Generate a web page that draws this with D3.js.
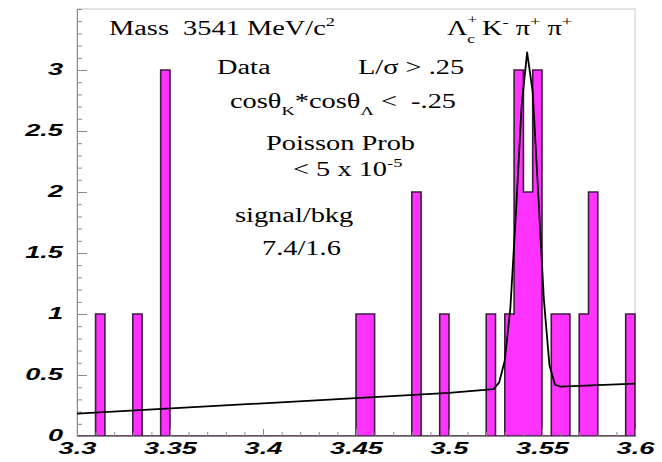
<!DOCTYPE html>
<html>
<head>
<meta charset="utf-8">
<script src="https://cdn.jsdelivr.net/npm/d3@7"></script>
<style>
  body { margin: 0; background: #fff; }
  text { white-space: pre; }
</style>
</head>
<body>
<svg id="chart" width="662" height="462"></svg>
<script>
// histogram contents (lower bin edge -> entries), bin width 0.005 GeV
const binLow = [3.31, 3.33, 3.345, 3.45, 3.455, 3.48, 3.495, 3.52, 3.53, 3.535, 3.54, 3.545, 3.555, 3.56, 3.57, 3.575, 3.595];
const counts = [1, 1, 3, 1, 1, 2, 1, 1, 1, 3, 2, 3, 1, 1, 1, 2, 1];
const binWidth = 0.005;

// fitted curve (gaussian + linear bkg)
const fitX = [3.30, 3.40, 3.50, 3.524, 3.527, 3.530, 3.533, 3.536, 3.539, 3.542, 3.545, 3.548, 3.551, 3.554, 3.557, 3.560, 3.60];
const fitY = [0.183, 0.268, 0.354, 0.385, 0.44, 0.62, 1.05, 1.83, 2.70, 3.145, 2.82, 1.98, 1.12, 0.58, 0.42, 0.405, 0.43];

const xTicks = [3.3, 3.35, 3.4, 3.45, 3.5, 3.55, 3.6];
const yTicks = [0, 0.5, 1, 1.5, 2, 2.5, 3];
const xRange = [3.3, 3.6];
const yRange = [0, 3.5];

const serif = "'Liberation Serif', 'Times New Roman', serif";
const sans = "'Liberation Sans', Arial, sans-serif";

const svg = d3.select("#chart");
const frame = {left: 77, right: 635, top: 9, bottom: 436};

const x = d3.scaleLinear().domain(xRange).range([frame.left, frame.right]);
const y = d3.scaleLinear().domain(yRange).range([frame.bottom, frame.top]);

// frame
svg.append("rect")
  .attr("x", frame.left).attr("y", frame.top)
  .attr("width", frame.right - frame.left).attr("height", frame.bottom - frame.top)
  .attr("fill", "none").attr("stroke", "#c8c8c8").attr("stroke-width", 1);

// histogram as one stepped outline, like ROOT draws it
const nBins = Math.round((xRange[1] - xRange[0]) / binWidth);
const steps = d3.range(nBins).map(i => {
  const lo = xRange[0] + i * binWidth;
  const j = binLow.findIndex(b => Math.abs(b - lo) < 1e-6);
  return {x: lo, v: j < 0 ? 0 : counts[j]};
});
steps.push({x: xRange[1], v: steps[steps.length - 1].v});

const area = d3.area()
  .curve(d3.curveStepAfter)
  .x(d => x(d.x))
  .y0(y(0))
  .y1(d => y(d.v));

svg.append("path")
  .datum(steps)
  .attr("d", area)
  .attr("fill", "#ff33ff")
  .attr("stroke", "#3c1e3c")
  .attr("stroke-width", 1.6)
  .attr("stroke-linejoin", "miter");

// axes
const gx = svg.append("g").attr("transform", `translate(0,${frame.bottom})`);
gx.call(d3.axisBottom(x).ticks(30).tickSize(-4).tickFormat("").tickSizeOuter(0));
gx.call(g => g.selectAll("path,line").attr("stroke", "#8a8a8a"));
const gx2 = svg.append("g").attr("transform", `translate(0,${frame.bottom})`);
gx2.call(d3.axisBottom(x).tickValues(xTicks).tickSize(-7).tickSizeOuter(0).tickFormat(d3.format("")));
gx2.select(".domain").remove();
gx2.selectAll("line").attr("stroke", "#8a8a8a");
gx2.selectAll("text")
  .attr("y", null).attr("dy", null)
  .attr("transform", "translate(0,18) scale(1.6,1)")
  .attr("font-family", sans).attr("font-size", 17)
  .attr("font-weight", "bold").attr("font-style", "italic")
  .attr("fill", "#000");

const gy = svg.append("g").attr("transform", `translate(${frame.left},0)`);
gy.call(d3.axisLeft(y).ticks(35).tickSize(-5).tickFormat("").tickSizeOuter(0));
gy.call(g => g.selectAll("path,line").attr("stroke", "#8a8a8a"));
const gy2 = svg.append("g").attr("transform", `translate(${frame.left},0)`);
gy2.call(d3.axisLeft(y).tickValues(yTicks).tickSize(-10).tickSizeOuter(0).tickFormat(d3.format("")));
gy2.select(".domain").remove();
gy2.selectAll("line").attr("stroke", "#8a8a8a");
gy2.selectAll("text")
  .attr("x", null).attr("dy", null)
  .attr("transform", "translate(-14,4) scale(1.6,1)")
  .attr("font-family", sans).attr("font-size", 17)
  .attr("font-weight", "bold").attr("font-style", "italic")
  .attr("fill", "#000");

// fit
const line = d3.line().x((d, i) => x(fitX[i])).y(d => y(d));
svg.append("path")
  .datum(fitY)
  .attr("d", line)
  .attr("fill", "none")
  .attr("stroke", "#000")
  .attr("stroke-width", 1.8)
  .attr("stroke-linejoin", "round");

// annotations; parts are plain strings or {t, d (baseline offset), dx, fs}
function label(px, py, parts) {
  const t = svg.append("text")
    .attr("transform", `translate(${px},${py}) scale(1.42,1)`)
    .attr("font-family", serif).attr("font-size", 20).attr("fill", "#000");
  let cur = 0;
  parts.forEach(p => {
    const s = typeof p === "string" ? {t: p, d: 0} : p;
    const ts = t.append("tspan").text(s.t).attr("dy", s.d - cur);
    if (s.d !== 0) ts.attr("font-size", s.fs || 13);
    if (s.dx) ts.attr("dx", s.dx);
    cur = s.d;
  });
}

label(109, 35, ["Mass  3541 MeV/c", {t: "2", d: -9}]);
label(447, 35, ["\u039B", {t: "+", d: -11, fs: 12}, {t: "c", d: 8, dx: -7, fs: 12}, " K", {t: "-", d: -9}, " \u03C0", {t: "+", d: -9}, " \u03C0", {t: "+", d: -9}]);
label(217, 74, ["Data"]);
label(358, 74, ["L/\u03C3 > .25"]);
label(230, 108, ["cos\u03B8", {t: "K", d: 7}, "*cos\u03B8", {t: "\u039B", d: 7}, " <  -.25"]);
label(266, 150, ["Poisson Prob"]);
label(293, 176, ["< 5 x 10", {t: "-5", d: -9}]);
label(235, 222, ["signal/bkg"]);
label(262, 255, ["7.4/1.6"]);
</script>
</body>
</html>
